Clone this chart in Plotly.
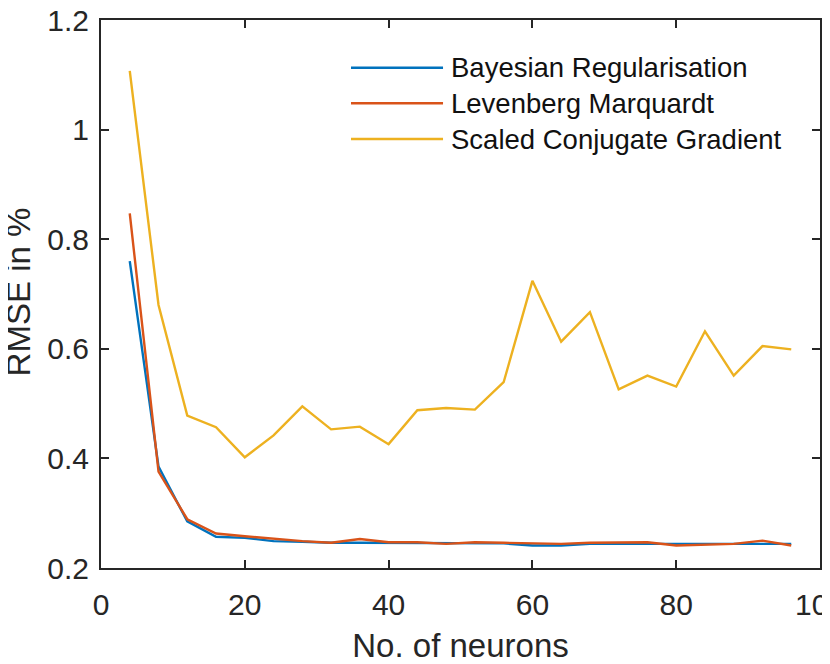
import plotly.graph_objects as go

# число нейронов
neurons = [4, 8, 12, 16, 20, 24, 28, 32, 36, 40, 44, 48,
           52, 56, 60, 64, 68, 72, 76, 80, 84, 88, 92, 96]

# RMSE, %
rmse_br = [0.760, 0.385, 0.285, 0.257, 0.255, 0.249, 0.248, 0.246, 0.246, 0.246, 0.245, 0.245,
           0.245, 0.245, 0.241, 0.241, 0.244, 0.244, 0.245, 0.245, 0.245, 0.245, 0.244, 0.244]
rmse_lm = [0.847, 0.376, 0.289, 0.263, 0.258, 0.253, 0.249, 0.246, 0.253, 0.247, 0.247, 0.244,
           0.247, 0.246, 0.245, 0.244, 0.246, 0.246, 0.247, 0.241, 0.243, 0.244, 0.250, 0.241]
rmse_scg = [1.107, 0.680, 0.478, 0.457, 0.402, 0.442, 0.495, 0.453, 0.458, 0.426, 0.488, 0.492,
            0.489, 0.539, 0.724, 0.613, 0.667, 0.526, 0.551, 0.531, 0.632, 0.551, 0.605, 0.599]

names = ['Bayesian Regularisation', 'Levenberg Marquardt', 'Scaled Conjugate Gradient']
colors = ['#0072BD', '#D95319', '#EDB120']

x_ticks = [0, 20, 40, 60, 80, 100]
y_ticks = [0.2, 0.4, 0.6, 0.8, 1.0, 1.2]
y_ticktext = ['0.2', '0.4', '0.6', '0.8', '1', '1.2']

FONT = 'Liberation Sans, Arial, sans-serif'
INK = '#262626'

fig = go.Figure()
for y, name, c in zip([rmse_br, rmse_lm, rmse_scg], names, colors):
    fig.add_trace(go.Scatter(x=neurons, y=y, name=name, mode='lines',
                             line=dict(color=c, width=2.4), showlegend=False))

# легенда в стиле MATLAB: длинные линии, без рамки
leg_y = [0.913, 0.848, 0.7828]
for name, c, ly in zip(names, colors, leg_y):
    fig.add_shape(type='line', xref='paper', yref='paper', x0=0.3477, x1=0.4757, y0=ly, y1=ly,
                  line=dict(color=c, width=2.4))
    fig.add_annotation(text=name, xref='paper', yref='paper', x=0.4840, y=ly,
                       xanchor='left', yanchor='middle', showarrow=False,
                       font=dict(size=27.5, color='#111111', family=FONT))

# подпись оси Y отдельной аннотацией (standoff без automargin не работает)
fig.add_annotation(text='RMSE in %', xref='paper', yref='paper', x=-0.1154, y=0.503,
                   xanchor='center', yanchor='middle', textangle=-90, showarrow=False,
                   font=dict(size=33, color=INK, family=FONT))

axis_common = dict(showline=True, linecolor=INK, linewidth=2, mirror='ticks',
                   ticks='inside', ticklen=8, tickwidth=2, tickcolor=INK,
                   showgrid=False, zeroline=False, ticklabeloverflow='allow',
                   tickfont=dict(size=30, color=INK, family=FONT))

# страница имеет отступ 8px, поэтому фигура чуть меньше окна
fig.update_layout(
    width=822, height=656,
    margin=dict(l=93, r=10, t=12, b=96, autoexpand=False),
    plot_bgcolor='white', paper_bgcolor='white',
    xaxis=dict(range=[0, 100], tickvals=x_ticks, ticklabelstandoff=9,
               title=dict(text='No. of neurons', font=dict(size=33, color=INK, family=FONT), standoff=17),
               **axis_common),
    yaxis=dict(range=[0.2, 1.2], tickvals=y_ticks, ticktext=y_ticktext, ticklabelstandoff=4,
               **axis_common),
)

fig.write_html("out.html")
